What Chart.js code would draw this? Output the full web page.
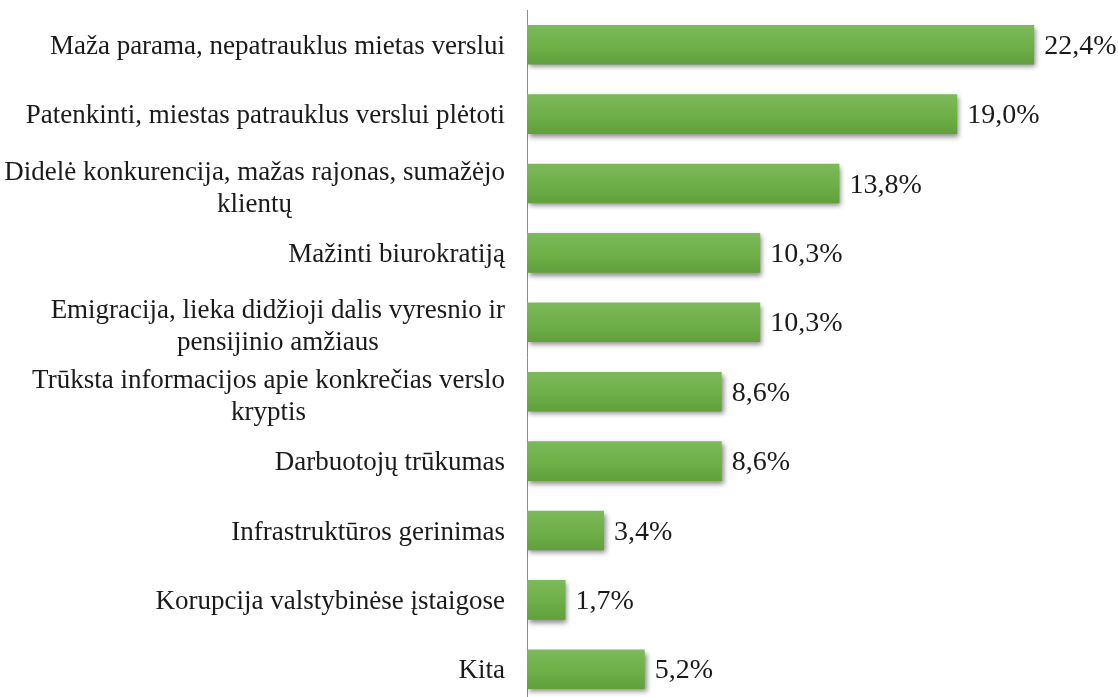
<!DOCTYPE html>
<html>
<head>
<meta charset="utf-8">
<script src="https://cdn.jsdelivr.net/npm/chart.js@4.4.0/dist/chart.umd.min.js"></script>
<style>
  html, body { margin: 0; padding: 0; background: #fff; overflow: hidden; }
  #wrap { width: 1118px; height: 704px; position: relative; }
</style>
</head>
<body>
<div id="wrap"><canvas id="chart"></canvas></div>
<script>
const categories = [
    'Maža parama, nepatrauklus mietas verslui',
    'Patenkinti, miestas patrauklus verslui plėtoti',
    ['Didelė konkurencija, mažas rajonas, sumažėjo', 'klientų'],
    'Mažinti biurokratiją',
    ['Emigracija, lieka didžioji dalis vyresnio ir', 'pensijinio amžiaus'],
    ['Trūksta informacijos apie konkrečias verslo', 'kryptis'],
    'Darbuotojų trūkumas',
    'Infrastruktūros gerinimas',
    'Korupcija valstybinėse įstaigose',
    'Kita'
];
const shares = [22.4, 19.0, 13.8, 10.3, 10.3, 8.6, 8.6, 3.4, 1.7, 5.2];

const FONT = '"Liberation Serif", "Times New Roman", serif';
const TEXT = '#1a1a1a';

const ctx = document.querySelector('#chart').getContext('2d');

// gradient fill + drop shadow on the bars
const barStyle = {
    id: 'barStyle',
    beforeDatasetsDraw(chart) {
        const c = chart.ctx;
        chart.getDatasetMeta(0).data.forEach(bar => {
            const h = bar.height;
            const g = c.createLinearGradient(0, bar.y - h / 2, 0, bar.y + h / 2);
            g.addColorStop(0, '#7db95b');
            g.addColorStop(0.5, '#6fb048');
            g.addColorStop(1, '#61a03c');
            bar.options.backgroundColor = g;
        });
        c.save();
        c.shadowColor = 'rgba(0,0,0,0.45)';
        c.shadowBlur = 5;
        c.shadowOffsetX = 2;
        c.shadowOffsetY = 3;
    },
    afterDatasetsDraw(chart) {
        chart.ctx.restore();
    }
};

// category labels (right-aligned block, lines centred inside it) and value labels
const textLabels = {
    id: 'textLabels',
    afterDatasetsDraw(chart) {
        const c = chart.ctx;
        const y = chart.scales.y;
        const right = y.right - 22;
        c.save();
        c.font = '27px ' + FONT;
        c.fillStyle = TEXT;
        c.textBaseline = 'alphabetic';
        categories.forEach((lab, i) => {
            const lines = Array.isArray(lab) ? lab : [lab];
            const cy = y.getPixelForValue(i);
            if (lines.length === 1) {
                c.textAlign = 'right';
                c.fillText(lines[0], right, cy + 9);
            } else {
                const w = Math.max(...lines.map(l => c.measureText(l).width));
                c.textAlign = 'center';
                lines.forEach((l, k) => {
                    c.fillText(l, right - w / 2, cy - 4 + k * 32);
                });
            }
        });
        c.font = '28px ' + FONT;
        c.textAlign = 'left';
        chart.getDatasetMeta(0).data.forEach((bar, i) => {
            c.fillText(shares[i].toFixed(1).replace('.', ',') + '%', bar.x + 10, bar.y + 9);
        });
        c.restore();
    }
};

new Chart(ctx, {
    type: 'bar',
    data: {
        labels: categories,
        datasets: [{
            data: shares,
            backgroundColor: () => '#6fb048',
            borderWidth: 0,
            categoryPercentage: 1,
            barPercentage: 0.57
        }]
    },
    options: {
        indexAxis: 'y',
        responsive: true,
        maintainAspectRatio: false,
        animation: false,
        layout: { padding: { top: 10, right: 25, left: 0, bottom: 0 } },
        plugins: {
            legend: { display: false },
            tooltip: { enabled: false }
        },
        scales: {
            x: {
                display: false,
                min: 0,
                max: 25
            },
            y: {
                afterFit(axis) {
                    axis.width = 527;
                    axis.paddingTop = 0;
                    axis.paddingBottom = 0;
                },
                grid: { display: false, drawTicks: false },
                border: { display: true, color: '#8c8c8c', width: 1 },
                ticks: { display: false }
            }
        }
    },
    plugins: [barStyle, textLabels]
});
</script>
</body>
</html>
